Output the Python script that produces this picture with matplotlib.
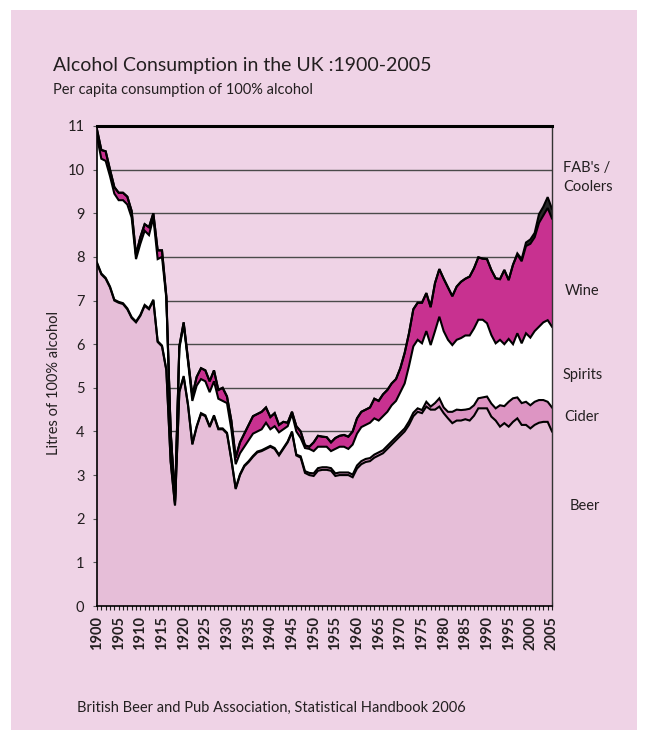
import matplotlib
matplotlib.use('Agg')
import matplotlib.pyplot as plt
import numpy as np
from matplotlib.patches import Rectangle

years = list(range(1900, 2006))

beer = [7.85, 7.6, 7.5, 7.3, 7.0, 6.95, 6.92, 6.8, 6.6, 6.5,
        6.65, 6.88, 6.8, 7.0, 6.05, 5.95, 5.4, 3.3, 2.3, 4.9,
        5.25, 4.6, 3.7, 4.1, 4.4, 4.35, 4.1, 4.35, 4.05, 4.05,
        3.95, 3.35, 2.68, 3.0, 3.2, 3.3, 3.42, 3.52, 3.55, 3.6,
        3.65, 3.6, 3.45, 3.6, 3.75, 3.98, 3.45, 3.4, 3.05, 3.0,
        2.98, 3.1, 3.12, 3.12, 3.1, 2.98, 3.0, 3.0, 3.0, 2.95,
        3.15, 3.25, 3.3, 3.32, 3.4, 3.45, 3.5, 3.6, 3.7, 3.8,
        3.9, 4.0, 4.15, 4.35, 4.45, 4.42, 4.57, 4.5, 4.5, 4.57,
        4.42, 4.3, 4.19, 4.25, 4.25, 4.28, 4.25, 4.36, 4.53, 4.53,
        4.53, 4.34, 4.25, 4.11, 4.19, 4.11, 4.22, 4.3, 4.15, 4.15,
        4.07, 4.15, 4.2, 4.22, 4.22, 4.0]

cider = [0.02] * 47 + [0.03, 0.04, 0.05] + \
        [0.06] * 10 + [0.07] * 10 + \
        [0.07, 0.07, 0.08, 0.08, 0.08, 0.07,
         0.11, 0.07, 0.15, 0.19, 0.13, 0.15, 0.26, 0.25, 0.24, 0.22, 0.27, 0.24, 0.23, 0.25,
         0.27, 0.30, 0.28, 0.49, 0.39, 0.57, 0.54, 0.48, 0.50, 0.53,
         0.53, 0.53, 0.52, 0.50, 0.46, 0.55]

spirits = [2.88, 2.63, 2.68, 2.53, 2.43, 2.33, 2.36, 2.38, 2.28, 1.43,
           1.63, 1.70, 1.68, 1.88, 1.88, 2.03, 1.63, 0.63, 0.06, 0.98,
           1.18, 0.98, 0.98, 0.93, 0.78, 0.78, 0.78, 0.78, 0.68, 0.63,
           0.68, 0.68, 0.55, 0.48, 0.43, 0.48, 0.51, 0.46, 0.48, 0.58,
           0.38, 0.50, 0.51, 0.43, 0.35, 0.40, 0.53, 0.42, 0.53, 0.55,
           0.51, 0.49, 0.47, 0.47, 0.39, 0.56, 0.59, 0.59, 0.54, 0.69,
           0.73, 0.78, 0.78, 0.81, 0.83, 0.73, 0.78, 0.78, 0.83, 0.83,
           0.93, 1.03, 1.27, 1.52, 1.57, 1.53, 1.62, 1.41, 1.65, 1.87,
           1.75, 1.65, 1.53, 1.60, 1.65, 1.70, 1.68, 1.76, 1.80, 1.78,
           1.68, 1.57, 1.49, 1.50, 1.42, 1.44, 1.24, 1.47, 1.37, 1.57,
           1.55, 1.62, 1.68, 1.78, 1.87, 1.85]

wine = [0.17, 0.20, 0.22, 0.15, 0.15, 0.17, 0.17, 0.18, 0.15, 0.10,
        0.15, 0.15, 0.18, 0.10, 0.20, 0.15, 0.05, 0.05, 0.04, 0.05,
        0.05, 0.06, 0.12, 0.20, 0.25, 0.25, 0.25, 0.25, 0.20, 0.30,
        0.15, 0.20, 0.15, 0.25, 0.30, 0.35, 0.40, 0.40, 0.40, 0.35,
        0.28, 0.30, 0.17, 0.17, 0.08, 0.05, 0.12, 0.15, 0.06, 0.05,
        0.20, 0.25, 0.23, 0.22, 0.20, 0.25, 0.25, 0.27, 0.28, 0.30,
        0.35, 0.35, 0.35, 0.35, 0.45, 0.45, 0.50, 0.50, 0.50, 0.50,
        0.55, 0.70, 0.75, 0.85, 0.85, 0.93, 0.87, 0.87, 1.10, 1.09,
        1.20, 1.20, 1.12, 1.22, 1.29, 1.30, 1.35, 1.38, 1.43, 1.40,
        1.47, 1.49, 1.49, 1.39, 1.70, 1.35, 1.82, 1.80, 1.88, 2.00,
        2.15, 2.15, 2.38, 2.45, 2.57, 2.48]

fabs = [0.0] * 97 + [0.03, 0.05, 0.08, 0.10, 0.10, 0.20, 0.20, 0.25, 0.22]

series_names = ["Beer", "Cider", "Spirits", "Wine", "FAB's /\nCoolers"]
yticks = list(range(0, 12))

BG = '#EFD3E6'
colors = ['#E6BED8', '#DD95C3', '#FFFFFF', '#C83190', '#262626']
TXT = '#231F20'
FONT = 'Lato'

fig = plt.figure(figsize=(6.48, 7.40), dpi=100)
fig.patch.set_facecolor('white')
fig.patches.append(Rectangle((11 / 648, 10 / 740), 1 - 22 / 648, 1 - 20 / 740,
                             transform=fig.transFigure, facecolor=BG,
                             edgecolor='none', zorder=-10))

ax = fig.add_axes([97 / 648, 1 - 606 / 740, 455 / 648, 480 / 740])
ax.set_facecolor(BG)

x = np.array(years)
layers = [np.array(beer), np.array(cider), np.array(spirits), np.array(wine), np.array(fabs)]
bottom = np.zeros(len(x))
tops = []
for arr, col in zip(layers, colors):
    top = bottom + arr
    ax.fill_between(x, bottom, top, facecolor=col, edgecolor='none', lw=0, zorder=2)
    tops.append(top)
    bottom = top
for top in tops:
    ax.plot(x, top, color='black', lw=1.5, zorder=3, solid_joinstyle='miter')

ax.set_xlim(1900, 2005)
ax.set_ylim(0, 11)
ax.set_yticks(yticks)
ax.set_yticklabels([str(v) for v in yticks], fontsize=10.5, color=TXT, family=FONT)
ax.yaxis.grid(True, color='#4a4a4a', lw=1.0, zorder=1)
ax.set_axisbelow(True)

ax.set_xticks(years)
ax.set_xticklabels([str(y) if y % 5 == 0 else '' for y in years],
                   rotation=90, fontsize=10.5, color=TXT, family=FONT, fontweight='bold')
ax.tick_params(axis='x', direction='inout', length=6, width=0.8, color='#222', pad=4)
ax.tick_params(axis='y', direction='out', length=3, width=0.8, color='#555', pad=6)

for s in ['left', 'bottom']:
    ax.spines[s].set_color('black')
    ax.spines[s].set_linewidth(1.2)
ax.spines['top'].set_color('black')
ax.spines['top'].set_linewidth(2.2)
ax.spines['right'].set_color('#333')
ax.spines['right'].set_linewidth(1.0)
for s in ax.spines.values():
    s.set_zorder(5)

fig.text(53 / 648, 1 - 71 / 740, "Alcohol Consumption in the UK :1900-2005",
         fontsize=14, color=TXT, family=FONT, va='baseline', ha='left')
fig.text(53 / 648, 1 - 94 / 740, "Per capita consumption of 100% alcohol",
         fontsize=10.5, color=TXT, family=FONT, va='baseline', ha='left')
fig.text(77 / 648, 1 - 712 / 740, "British Beer and Pub Association, Statistical Handbook 2006",
         fontsize=10.5, color=TXT, family=FONT, va='baseline', ha='left')
fig.text(54 / 648, 1 - 383 / 740, "Litres of 100% alcohol", rotation=90,
         fontsize=10.5, color=TXT, family=FONT, va='center', ha='center')

label_pos = [(570, 510), (564, 421), (563, 379), (565, 295), (563, 191)]
for name, (lx, ly) in zip(series_names, label_pos):
    fig.text(lx / 648, 1 - ly / 740, name, fontsize=10.5, color=TXT, family=FONT,
             va='baseline', ha='left', linespacing=1.45)

fig.savefig('out.png', dpi=100, facecolor=fig.get_facecolor())
